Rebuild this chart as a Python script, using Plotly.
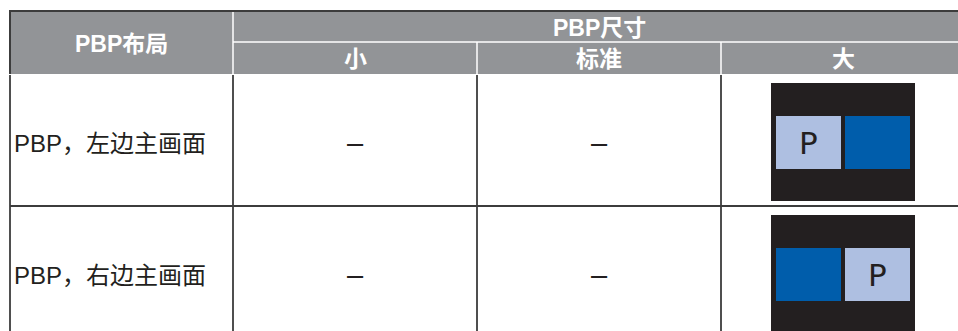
import plotly.graph_objects as go

# ---- data ----
corner_label = "PBP布局"
group_label = "PBP尺寸"
size_labels = ["小", "标准", "大"]
layout_labels = ["PBP，左边主画面", "PBP，右边主画面"]
small_cells = ["–", "–"]
standard_cells = ["–", "–"]
large_p_side = ["left", "right"]   # which pane of the large preview holds the "P"
pane_letter = "P"

# ---- geometry / style constants ----
W, H = 958, 331
col_edges = [10, 233, 477, 721, 965]
top, mid, head_bot = 11, 42, 74
row_h = 132
row_edges = [head_bot + i * row_h for i in range(len(layout_labels) + 1)]
GRAY = "#929497"
LINE = "#3c3c3c"
BLACK = "#231f20"
LIGHT = "#aebfe1"
BLUE = "#005dab"
FONT = "Liberation Sans, Arial, Noto Sans CJK SC, sans-serif"

shapes = []
ann = []

def rect(x0, y0, x1, y1, fill, line=None, lw=0):
    shapes.append(dict(type="rect", xref="x", yref="y", x0=x0, y0=y0, x1=x1, y1=y1,
                       fillcolor=fill, line=dict(color=line or fill, width=lw), layer="below"))

def seg(x0, y0, x1, y1, color, lw):
    shapes.append(dict(type="line", xref="x", yref="y", x0=x0, y0=y0, x1=x1, y1=y1,
                       line=dict(color=color, width=lw)))

def text(x, y, s, size, color, bold=False, xanchor="center", family=FONT):
    ann.append(dict(x=x, y=y, xref="x", yref="y", text=f"<b>{s}</b>" if bold else s,
                    showarrow=False, xanchor=xanchor, yanchor="middle",
                    font=dict(family=family, size=size, color=color)))

# header background
rect(col_edges[0], top, col_edges[-1], head_bot, GRAY)
# header inner white lines
seg(col_edges[1], top, col_edges[1], head_bot, "white", 1.5)
seg(col_edges[1], mid, col_edges[-1], mid, "white", 1.5)
for x in col_edges[2:4]:
    seg(x, mid, x, head_bot, "white", 1.5)
# outer top line
seg(col_edges[0] - 1, top, col_edges[-1], top, LINE, 2)
seg(col_edges[0], top, col_edges[0], head_bot, LINE, 2)

# header texts
text((col_edges[0] + col_edges[1]) / 2, (top + head_bot) / 2 + 1, corner_label, 23, "white", True)
text((col_edges[1] + col_edges[-1]) / 2, (top + mid) / 2 + 1, group_label, 23, "white", True)
for i, lab in enumerate(size_labels):
    text((col_edges[i + 1] + col_edges[i + 2]) / 2, (mid + head_bot) / 2 + 1, lab, 23, "white", True)

# body grid
for x in col_edges[:4]:
    seg(x, head_bot + 1, x, H + 5, LINE, 1.8)
for y in row_edges[1:]:
    seg(col_edges[0], y, col_edges[-1], y, LINE, 1.8)

# body content
for r, lab in enumerate(layout_labels):
    cy = (row_edges[r] + row_edges[r + 1]) / 2 + 3
    text(col_edges[0] + 2, cy, lab, 24, "#231f20", xanchor="left")
    text((col_edges[1] + col_edges[2]) / 2, cy, small_cells[r], 29, "#231f20")
    text((col_edges[2] + col_edges[3]) / 2, cy, standard_cells[r], 29, "#231f20")
    # large preview
    cx = (col_edges[3] + col_edges[4]) / 2
    by0 = row_edges[r] + 9
    rect(cx - 72, by0, cx + 72, by0 + 118, BLACK)
    panes = [(cx - 67, cx - 2), (cx + 2, cx + 67)]
    p_idx = 0 if large_p_side[r] == "left" else 1
    for k, (x0, x1) in enumerate(panes):
        rect(x0, by0 + 33, x1, by0 + 86, LIGHT if k == p_idx else BLUE)
    text((panes[p_idx][0] + panes[p_idx][1]) / 2, by0 + 60, pane_letter, 31, BLACK,
         family="DejaVu Sans, Liberation Sans, sans-serif")

fig = go.Figure()
fig.update_layout(
    width=W, height=H, margin=dict(l=0, r=0, t=0, b=0),
    paper_bgcolor="white", plot_bgcolor="white",
    xaxis=dict(range=[0, W], visible=False, fixedrange=True),
    yaxis=dict(range=[H, 0], visible=False, fixedrange=True),
    shapes=shapes, annotations=ann, showlegend=False,
)
fig.write_html("out.html", config={"displayModeBar": False},
               post_script="document.body.style.margin='0px';document.body.style.overflow='hidden';")
